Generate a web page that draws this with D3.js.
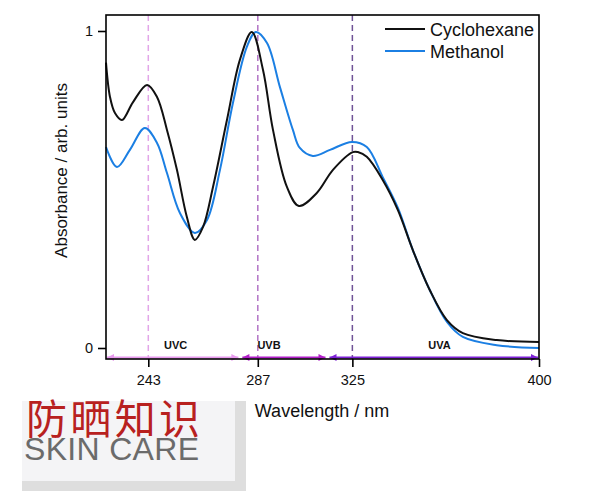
<!DOCTYPE html>
<html><head><meta charset="utf-8">
<script src="https://cdn.jsdelivr.net/npm/d3@7"></script>
<style>body{margin:0;background:#fff}svg{display:block}</style>
</head><body>
<svg id="c" width="600" height="500"></svg>
<script>
// ---- data ----
const cycloNm  = [226.0,227.6,229.6,232.4,236.8,242.5,246.5,250.5,254.5,258.5,261.7,265.0,269.0,274.6,279.8,284.6,289.1,293.1,298.7,303.5,310.7,317.2,325.2,327.2,330.8,337.2,343.3,349.3,356.1,363.0,369.4,383.0,400.0];
const cycloAbs = [0.900,0.792,0.741,0.719,0.775,0.830,0.792,0.688,0.562,0.413,0.341,0.382,0.508,0.719,0.909,0.997,0.877,0.688,0.508,0.448,0.489,0.562,0.618,0.618,0.603,0.530,0.435,0.309,0.183,0.088,0.047,0.025,0.019];
const methNm   = [226.0,230.4,235.6,241.6,246.5,250.5,255.7,261.7,266.6,271.8,277.0,282.6,286.2,290.7,295.9,301.1,303.9,309.1,316.0,324.8,330.8,337.2,343.3,349.3,356.1,363.0,369.4,383.0,400.0];
const methAbs  = [0.634,0.571,0.625,0.694,0.647,0.552,0.426,0.363,0.404,0.562,0.773,0.950,0.997,0.962,0.823,0.688,0.631,0.606,0.625,0.650,0.634,0.539,0.442,0.309,0.183,0.082,0.035,0.009,0.000];
const seriesNames = ["Cyclohexane","Methanol"];
const xTicks = [243,287,325,400];
const yTicks = [0,1];
const markerNm = [243,287,325];
const bandNames = ["UVC","UVB","UVA"];
const bandFrom = [226,280,315];
const bandTo   = [280,315,400];

// ---- layout ----
const svg = d3.select("#c");
const L=106, R=539, T=15, B=359;
const x = d3.scaleLinear().domain([226,400]).range([L,R]);
const y = d3.scaleLinear().domain([0,1]).range([348,31]);
const font = "Liberation Sans, Arial, Helvetica, sans-serif";
const colors = ["#111111","#1b7fe3"];
const markerColors = ["#e2a6e8","#b274c6","#6f5296"];
const bandColors = ["#e89aee","#b11fc9","#7e22d6"];

// watermark
svg.append("rect").attr("x",22).attr("y",401).attr("width",224).attr("height",90).attr("fill","#dedede");
svg.append("rect").attr("x",22).attr("y",401).attr("width",213).attr("height",80).attr("fill","#f4f4f6");
svg.append("text").attr("x",26).attr("y",434).attr("font-family","Liberation Sans, Noto Sans CJK SC").attr("font-size",41)
  .attr("fill","#b8211f").attr("textLength",174).text("防晒知识");
svg.append("text").attr("x",24).attr("y",460).attr("font-family",font).attr("font-size",32)
  .attr("fill","#6b6b6b").attr("textLength",175).text("SKIN CARE");

// dashed markers
svg.selectAll(".mk").data(markerNm).join("line")
  .attr("x1",d=>x(d)).attr("x2",d=>x(d)).attr("y1",T).attr("y2",B)
  .attr("stroke",(d,i)=>markerColors[i]).attr("stroke-width",1.5).attr("stroke-dasharray","6,4");

// curves
const line = d3.line().x(d=>x(d[0])).y(d=>y(d[1])).curve(d3.curveCatmullRom.alpha(0.5));
const cyclo = cycloNm.map((v,i)=>[v,cycloAbs[i]]);
const meth = methNm.map((v,i)=>[v,methAbs[i]]);
svg.append("path").datum(meth).attr("d",line).attr("fill","none").attr("stroke",colors[1]).attr("stroke-width",2);
svg.append("path").datum(cyclo).attr("d",line).attr("fill","none").attr("stroke",colors[0]).attr("stroke-width",2);

// UV band arrows
const ay = 357.5;
bandNames.forEach((n,i)=>{
  const x1 = x(bandFrom[i])+ (i===0?1:2), x2 = x(bandTo[i]) - (i===2?1:2);
  const c = bandColors[i];
  svg.append("line").attr("x1",x1).attr("x2",x2).attr("y1",ay).attr("y2",ay).attr("stroke",c).attr("stroke-width",2);
  svg.append("path").attr("d",`M${x1},${ay} l7,-3.5 l0,7 Z`).attr("fill",c);
  svg.append("path").attr("d",`M${x2},${ay} l-7,-3.5 l0,7 Z`).attr("fill",c);
});
const labelNm = [254,291.5,360];
svg.selectAll(".bl").data(bandNames).join("text")
  .attr("x",(d,i)=>x(labelNm[i])).attr("y",349).attr("text-anchor","middle")
  .attr("font-family",font).attr("font-weight","bold").attr("font-size",11).attr("fill","#111").text(d=>d);

// frame
svg.append("rect").attr("x",L).attr("y",T).attr("width",R-L).attr("height",B-T)
  .attr("fill","none").attr("stroke","#000").attr("stroke-width",1.6);

// axes
const xa = svg.append("g").attr("transform",`translate(0,${B})`)
  .call(d3.axisBottom(x).tickValues(xTicks).tickSize(8).tickSizeOuter(0).tickPadding(8).tickFormat(d3.format("d")));
xa.select(".domain").remove();
xa.selectAll("text").attr("font-family",font).attr("font-size",14.5).attr("fill","#111");
xa.selectAll("line").attr("stroke","#000").attr("stroke-width",1.6);
const ya = svg.append("g").attr("transform",`translate(${L},0)`)
  .call(d3.axisLeft(y).tickValues(yTicks).tickSize(8).tickSizeOuter(0).tickPadding(5).tickFormat(d3.format("d")));
ya.select(".domain").remove();
ya.selectAll("text").attr("font-family",font).attr("font-size",14.5).attr("fill","#111");
ya.selectAll("line").attr("stroke","#000").attr("stroke-width",1.6);

// axis titles
svg.append("text").attr("x",322).attr("y",417).attr("text-anchor","middle")
  .attr("font-family",font).attr("font-size",18).attr("fill","#111").text("Wavelength / nm");
svg.append("text").attr("transform","translate(67,170.5) rotate(-90)").attr("text-anchor","middle")
  .attr("font-family",font).attr("font-size",17).attr("fill","#111").text("Absorbance / arb. units");

// legend
const lg = svg.append("g");
seriesNames.forEach((n,i)=>{
  const ly = 29 + i*22;
  lg.append("line").attr("x1",385).attr("x2",425).attr("y1",ly).attr("y2",ly).attr("stroke",colors[i]).attr("stroke-width",2);
  lg.append("text").attr("x",430).attr("y",ly+6.5).attr("font-family",font).attr("font-size",18).attr("fill","#111").text(n);
});
</script>
</body></html>
